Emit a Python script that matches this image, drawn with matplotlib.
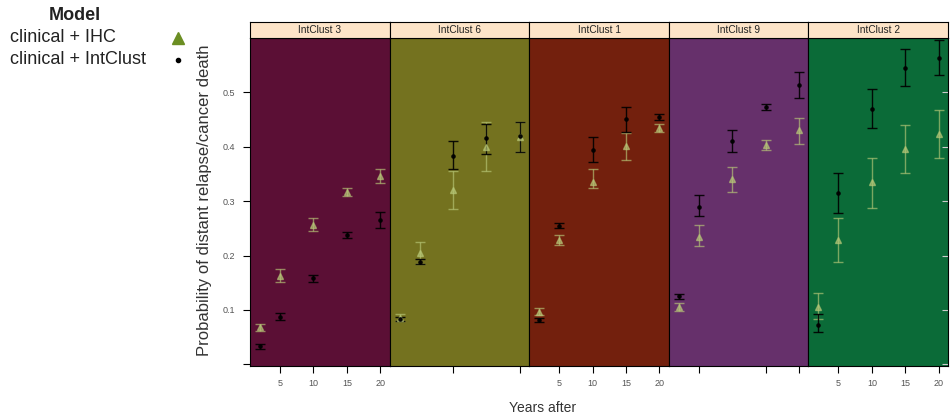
import matplotlib
matplotlib.use("Agg")
import matplotlib.pyplot as plt
from matplotlib.lines import Line2D

plt.rcParams['font.family'] = ['Liberation Sans', 'DejaVu Sans']

years = [2, 5, 10, 15, 20]
clusters = ['IntClust 3', 'IntClust 6', 'IntClust 1', 'IntClust 9', 'IntClust 2']
panel_colors = ['#5B0F35', '#74721F', '#73200D', '#66306B', '#0B6B38']

ihc_est = [[0.068, 0.163, 0.257, 0.317, 0.347],
           [0.086, 0.205, 0.320, 0.400, 0.418],
           [0.097, 0.229, 0.336, 0.402, 0.435],
           [0.105, 0.235, 0.341, 0.404, 0.431],
           [0.106, 0.229, 0.336, 0.396, 0.424]]
ihc_lo = [[0.062, 0.152, 0.245, 0.310, 0.334],
          [0.080, 0.185, 0.285, 0.356, 0.390],
          [0.090, 0.220, 0.325, 0.376, 0.428],
          [0.098, 0.217, 0.317, 0.395, 0.405],
          [0.083, 0.189, 0.288, 0.352, 0.380]]
ihc_hi = [[0.074, 0.175, 0.270, 0.325, 0.360],
          [0.092, 0.225, 0.355, 0.445, 0.445],
          [0.104, 0.238, 0.360, 0.426, 0.442],
          [0.112, 0.257, 0.363, 0.413, 0.453],
          [0.132, 0.270, 0.380, 0.440, 0.468]]

ic_est = [[0.033, 0.088, 0.158, 0.237, 0.265],
          [0.083, 0.189, 0.383, 0.417, 0.420],
          [0.082, 0.255, 0.394, 0.451, 0.455],
          [0.125, 0.290, 0.411, 0.473, 0.514],
          [0.073, 0.315, 0.470, 0.545, 0.563]]
ic_lo = [[0.028, 0.082, 0.152, 0.232, 0.250],
         [0.079, 0.185, 0.360, 0.387, 0.391],
         [0.078, 0.250, 0.372, 0.428, 0.450],
         [0.120, 0.272, 0.390, 0.468, 0.490],
         [0.060, 0.279, 0.435, 0.512, 0.532]]
ic_hi = [[0.038, 0.094, 0.164, 0.243, 0.280],
         [0.087, 0.193, 0.410, 0.442, 0.446],
         [0.086, 0.260, 0.418, 0.473, 0.460],
         [0.130, 0.312, 0.430, 0.478, 0.538],
         [0.092, 0.352, 0.506, 0.580, 0.596]]

ytick_vals = [0.0, 0.1, 0.2, 0.3, 0.4, 0.5]
ytick_labels = ['', '0.1', '0.2', '0.3', '0.4', '0.5']
xtick_vals = [5, 10, 15, 20]
# bottom ticks seen on even panels
even_ticks = {1: [10, 20], 3: [5, 15, 20]}

W, H = 950, 419
fig = plt.figure(figsize=(W / 100, H / 100), dpi=100)

left_px, right_px = 250, 948
top_px, bot_px, strip_top_px = 38, 366, 22
pw = (right_px - left_px) / 5

ihc_color = '#B8C878'
legend_ihc = '#6B8E23'

for i, name in enumerate(clusters):
    x0 = (left_px + i * pw) / W
    ax = fig.add_axes([x0, (H - bot_px) / H, pw / W, (bot_px - top_px) / H])
    ax.set_facecolor(panel_colors[i])
    ax.set_xlim(0.5, 21.4)
    ax.set_ylim(-0.003, 0.6)
    yerr_ihc = [[e - l for e, l in zip(ihc_est[i], ihc_lo[i])],
                [h - e for e, h in zip(ihc_est[i], ihc_hi[i])]]
    yerr_ic = [[e - l for e, l in zip(ic_est[i], ic_lo[i])],
               [h - e for e, h in zip(ic_est[i], ic_hi[i])]]
    ax.errorbar(years, ihc_est[i], yerr=yerr_ihc, fmt='^', color=ihc_color,
                ms=5, elinewidth=1.0, capsize=3.5, capthick=1.0, alpha=0.65)
    ax.errorbar(years, ic_est[i], yerr=yerr_ic, fmt='o', color='black',
                ms=2.3, elinewidth=1.0, capsize=3.5, capthick=1.0, alpha=0.9)
    for s in ax.spines.values():
        s.set_color('black')
        s.set_linewidth(0.8)
    # y ticks
    if i == 0:
        ax.set_yticks(ytick_vals)
        ax.set_yticklabels(ytick_labels, fontsize=6.5, color='#555555')
        ax.tick_params(axis='y', direction='out', length=5, width=0.8, pad=6)
    elif i == 4:
        ax.yaxis.tick_right()
        ax.set_yticks(ytick_vals)
        ax.set_yticklabels([])
        ax.tick_params(axis='y', direction='in', length=4, width=0.8, color='#cccccc')
    else:
        ax.set_yticks([])
    # x ticks
    if i % 2 == 0:
        ax.set_xticks(xtick_vals)
        ax.set_xticklabels([str(v) for v in xtick_vals], fontsize=6.5, color='#555555')
    else:
        ax.set_xticks(even_ticks[i])
        ax.set_xticklabels([])
    ax.tick_params(axis='x', direction='out', length=5, width=0.8, pad=4)

    # strip
    sax = fig.add_axes([x0, (H - top_px) / H, pw / W, (top_px - strip_top_px) / H])
    sax.set_facecolor('#FDE4C8')
    sax.set_xticks([])
    sax.set_yticks([])
    for s in sax.spines.values():
        s.set_color('black')
        s.set_linewidth(0.8)
    sax.text(0.5, 0.5, name, ha='center', va='center', fontsize=7.3, color='#222222',
             transform=sax.transAxes)

# axis labels
fig.text(205 / W, 1 - 200 / H, 'Probability of distant relapse/cancer death',
         rotation=90, ha='center', va='center', fontsize=12, color='#333333')
fig.text(543 / W, 1 - 408 / H, 'Years after', ha='center', va='center',
         fontsize=10, color='#333333')

# legend
fig.text(75 / W, 1 - 15 / H, 'Model', ha='center', va='center', fontsize=13,
         fontweight='bold', color='#222222')
fig.text(10 / W, 1 - 38 / H, 'clinical + IHC', ha='left', va='center', fontsize=13,
         color='#222222')
fig.text(10 / W, 1 - 60 / H, 'clinical + IntClust', ha='left', va='center', fontsize=13,
         color='#222222')
fig.add_artist(Line2D([178 / W], [1 - 38 / H], marker='^', color=legend_ihc,
                      markersize=8, linestyle='none', transform=fig.transFigure))
fig.add_artist(Line2D([178 / W], [1 - 60 / H], marker='o', color='black',
                      markersize=3, linestyle='none', transform=fig.transFigure))

fig.savefig('out.png', dpi=100)
